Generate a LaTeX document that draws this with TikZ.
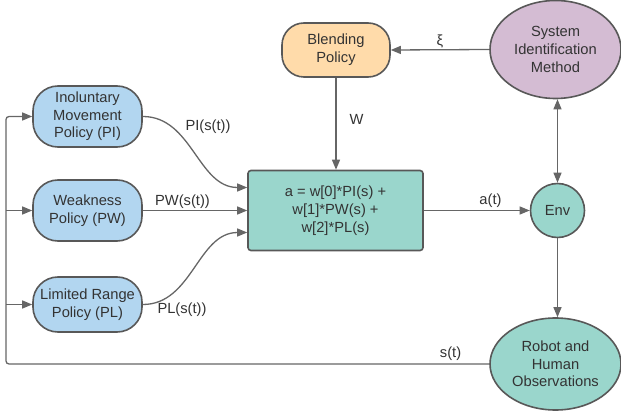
\documentclass[tikz,border=0pt]{standalone}
\usepackage{fontspec}
\setmainfont{Liberation Sans}
\usetikzlibrary{arrows.meta,positioning,calc,shapes.geometric}
\definecolor{polblue}{RGB}{178,214,240}
\definecolor{polorange}{RGB}{255,219,170}
\definecolor{polpurple}{RGB}{212,188,211}
\definecolor{polteal}{RGB}{154,214,204}
\definecolor{edgegray}{RGB}{88,88,88}
\definecolor{linegray}{RGB}{102,102,102}
\definecolor{txtgray}{RGB}{51,51,51}
\tikzset{
    base/.style={draw=edgegray, line width=1.6pt, text=txtgray, align=center, inner sep=0pt, font=\fontsize{14.7}{17.7}\selectfont},
    policy/.style={base, fill=polblue, rounded corners=25pt, minimum width=109pt, minimum height=61pt},
    blend/.style={base, fill=polorange, rounded corners=22pt, minimum width=108pt, minimum height=54pt},
    mixer/.style={base, fill=polteal, rounded corners=3pt, minimum width=175pt, minimum height=80pt},
    envnode/.style={base, fill=polteal, circle, minimum size=54pt},
    bigell/.style={base, ellipse, minimum width=131pt},
    flow/.style={draw=linegray, line width=1.3pt, -{Triangle[length=10pt,width=8pt]}},
    lbl/.style={text=txtgray, font=\fontsize{14.7}{17.7}\selectfont, inner sep=1pt},
}
\begin{document}
\begin{tikzpicture}[x=1pt, y=-1pt]
    \useasboundingbox (0,0) rectangle (621,414);

    % Policies
    \node[policy] (PI) at (87.5,116.5) {Inoluntary\\Movement\\Policy (PI)};
    \node[policy] (PW) at (87.5,210.5) {Weakness\\Policy (PW)};
    \node[policy, minimum height=55pt] (PL) at (87.5,304.5) {Limited Range\\Policy (PL)};

    % Blending and mixing
    \node[blend] (BP) at (336,50) {Blending\\Policy};
    \node[mixer] (MX) at (335.5,210.5) {a = w[0]*PI(s) +\\w[1]*PW(s) +\\w[2]*PL(s)};

    % Right column
    \node[bigell, fill=polpurple, minimum height=98pt] (SI) at (555.5,49.5) {System\\Identification\\Method};
    \node[envnode] (EN) at (557.5,210.5) {Env};
    \node[bigell, fill=polteal, minimum height=92pt] (RH) at (555.5,364) {Robot and\\Human\\Observations};

    % Top connections
    \draw[flow] (SI.west) -- (BP.east) node[lbl, midway, above] {ξ};
    \draw[flow] (BP.south) -- (BP.south |- MX.north) node[lbl, midway, right, xshift=12pt, yshift=4pt] {W};
    \draw[flow, {Triangle[length=10pt,width=8pt]}-{Triangle[length=10pt,width=8pt]}] (SI.south -| EN.north) -- (EN.north);
    \draw[flow] (MX.east) -- (EN.west) node[lbl, pos=0.63, above, yshift=1pt] {a(t)};
    \draw[flow] (EN.south) -- (EN.south |- RH.north);

    % Policy outputs
    \draw[flow] (PI.east) to[out=0, in=180] ([yshift=23pt]MX.west);
    \node[lbl] (lPI) at (208,127) {PI(s(t))};
    \draw[flow] (PW.east) -- (MX.west) node[lbl, pos=0.38, above] {PW(s(t))};
    \draw[flow] (PL.east) to[out=0, in=180] ([yshift=-22pt]MX.west);
    \node[lbl] (lPL) at (182,310) {PL(s(t))};

    % Feedback of the state
    \coordinate (fb) at (6,364);
    \draw[flow, rounded corners=3pt] (RH.west)
        -- node[lbl, pos=0.08, above, yshift=2pt] {s(t)} (fb) |- (PI.west);
    \draw[flow] (fb |- PW.west) -- (PW.west);
    \draw[flow] (fb |- PL.west) -- (PL.west);
\end{tikzpicture}
\end{document}
